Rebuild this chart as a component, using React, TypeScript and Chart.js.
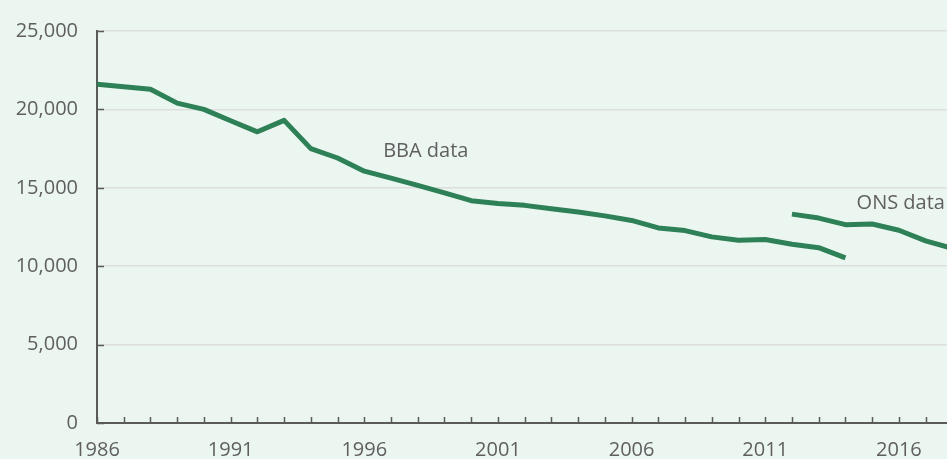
import React, { useEffect, useRef } from "react";
import { Chart, registerables } from "chart.js";

Chart.register(...registerables);

const bbaYears = [1986, 1987, 1988, 1989, 1990, 1991, 1992, 1993, 1994, 1995, 1996, 1997, 1998, 1999, 2000, 2001, 2002, 2003, 2004, 2005, 2006, 2007, 2008, 2009, 2010, 2011, 2012, 2013, 2014];
const bbaValues = [21600, 21440, 21290, 20400, 20000, 19280, 18570, 19300, 17500, 16900, 16060, 15620, 15160, 14680, 14180, 14000, 13880, 13670, 13460, 13210, 12920, 12440, 12270, 11870, 11660, 11700, 11400, 11180, 10530];
const onsYears = [2012, 2013, 2014, 2015, 2016, 2017, 2018];
const onsValues = [13320, 13070, 12650, 12690, 12290, 11620, 11140];
const yTicks = [0, 5000, 10000, 15000, 20000, 25000];
const xMin = 1986;
const xMax = 2017.8;
const labelEvery = 5;
const annotations = [
  { text: "BBA data", x: 1998.3, y: 17300 },
  { text: "ONS data", x: 2016.07, y: 14000 },
];

const FONT = "'Open Sans', 'Noto Sans', sans-serif";
const TEXT = "#5f5f5f";
const AXIS = "#5a5a5a";
const LINE = "#2e8056";
const BG = "#ecf6f1";

export default function App() {
  const ref = useRef<HTMLCanvasElement>(null);
  useEffect(() => {
    document.body.style.margin = "0";
    const ctx = ref.current!;
    const bg = {
      id: "bg",
      beforeDraw(chart: any) {
        const c = chart.ctx;
        c.save();
        c.fillStyle = BG;
        c.fillRect(0, 0, chart.width, chart.height);
        c.restore();
      },
    };
    const extras = {
      id: "extras",
      afterDraw(chart: any) {
        const c = chart.ctx;
        const xs = chart.scales.x;
        const ys = chart.scales.y;
        const area = chart.chartArea;
        c.save();
        c.strokeStyle = AXIS;
        c.lineWidth = 1.5;
        xs.ticks.forEach((t: any) => {
          const px = Math.round(xs.getPixelForValue(t.value)) + 0.5;
          c.beginPath();
          c.moveTo(px, area.bottom);
          c.lineTo(px, area.bottom - 6);
          c.stroke();
        });
        ys.ticks.forEach((t: any) => {
          const py = Math.round(ys.getPixelForValue(t.value)) + 0.5;
          c.beginPath();
          c.moveTo(area.left, py);
          c.lineTo(area.left + 7, py);
          c.stroke();
        });
        c.fillStyle = TEXT;
        c.font = `20px ${FONT}`;
        c.textAlign = "center";
        c.textBaseline = "middle";
        annotations.forEach((a) => {
          c.fillText(a.text, xs.getPixelForValue(a.x), ys.getPixelForValue(a.y));
        });
        c.restore();
      },
    };
    const chart = new Chart(ctx, {
      type: "line",
      data: {
        datasets: [
          {
            label: "BBA data",
            data: bbaYears.map((y, i) => ({ x: y, y: bbaValues[i] })),
            borderColor: LINE,
            borderWidth: 5,
            pointRadius: 0,
            tension: 0,
            borderJoinStyle: "round",
          },
          {
            label: "ONS data",
            data: onsYears.map((y, i) => ({ x: y, y: onsValues[i] })),
            borderColor: LINE,
            borderWidth: 5,
            pointRadius: 0,
            tension: 0,
            borderJoinStyle: "round",
          },
        ],
      },
      options: {
        animation: false,
        responsive: false,
        maintainAspectRatio: false,
        layout: { padding: { top: 25, left: 0, right: 0, bottom: 0 } },
        plugins: { legend: { display: false }, tooltip: { enabled: false } },
        scales: {
          x: {
            type: "linear",
            min: xMin,
            max: xMax,
            grid: { display: false, drawTicks: false },
            border: { display: true, color: AXIS, width: 2 },
            afterBuildTicks(scale: any) {
              const t = [];
              for (let v = xMin; v <= Math.floor(xMax); v++) t.push({ value: v });
              scale.ticks = t;
            },
            afterFit(scale: any) {
              scale.height = 36;
            },
            ticks: {
              autoSkip: false,
              maxRotation: 0,
              padding: 15,
              color: TEXT,
              font: { family: FONT, size: 20 },
              callback: (v: any) => ((v - xMin) % labelEvery === 0 ? String(v) : ""),
            },
          },
          y: {
            min: 0,
            max: 25000,
            grid: { color: "#dcdfdd", lineWidth: 1.5, drawTicks: false },
            border: { display: true, color: AXIS, width: 2 },
            afterBuildTicks(scale: any) {
              scale.ticks = yTicks.map((v) => ({ value: v }));
            },
            afterFit(scale: any) {
              scale.width = 97;
            },
            ticks: {
              padding: 19,
              color: TEXT,
              font: { family: FONT, size: 20 },
              callback: (v: any) => Number(v).toLocaleString("en-US"),
            },
          },
        },
      },
      plugins: [bg, extras],
    } as any);
    return () => chart.destroy();
  }, []);
  return (
    <div style={{ position: "fixed", left: 0, top: 0, width: 947, height: 459 }}>
      <canvas ref={ref} width={947} height={459} />
    </div>
  );
}
